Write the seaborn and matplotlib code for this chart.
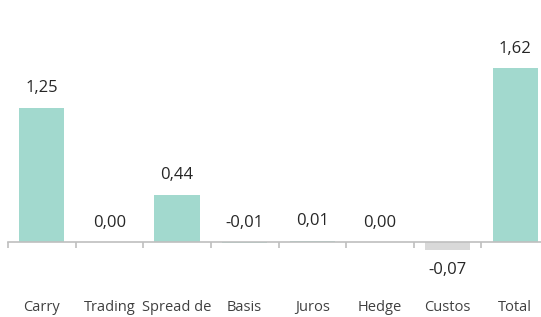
import matplotlib
matplotlib.use('Agg')
import matplotlib.pyplot as plt
import seaborn as sns
import pandas as pd
import numpy as np

# Data
categories = ['Carry', 'Trading', 'Spread de', 'Basis', 'Juros', 'Hedge', 'Custos', 'Total']
values = [1.25, 0.00, 0.44, -0.01, 0.01, 0.00, -0.07, 1.62]
bar_colors = ['#A2D9CE', '#A2D9CE', '#A2D9CE', '#A2D9CE', '#A2D9CE', '#A2D9CE', '#D9D9D9', '#A2D9CE']

df = pd.DataFrame({'cat': categories, 'val': values})

sns.set_style('white')
plt.rcParams['font.family'] = ['Open Sans', 'DejaVu Sans']

fig = plt.figure(figsize=(5.41, 3.17), dpi=100)
# axes spill over the right edge, like the cropped original
px_per_unit = 107.4
y0, y1 = -0.6, 2.2
h = (y1 - y0) * px_per_unit
bottom_px = 317 - (242 + (0 - y0) * px_per_unit)
ax = fig.add_axes([8 / 541, bottom_px / 317, 541 / 541, h / 317])

sns.barplot(data=df, x='cat', y='val', hue='cat', palette=bar_colors,
            width=0.67, legend=False, ax=ax, saturation=1, linewidth=0)

ax.set_xlim(-0.5, 7.5)
ax.set_ylim(y0, y1)
ax.set_xlabel('')
ax.set_ylabel('')
ax.set_yticks([])

for s in ['top', 'right', 'left']:
    ax.spines[s].set_visible(False)
ax.spines['bottom'].set_position(('data', 0))
ax.spines['bottom'].set_color('#BFBFBF')
ax.spines['bottom'].set_linewidth(1.2)

# labels at centers, tick marks at category boundaries
ax.set_xticks(range(len(categories)))
ax.set_xticklabels(categories, fontsize=10.5, color='#404040')
ax.set_xticks(np.arange(-0.5, len(categories), 1), minor=True)
ax.tick_params(axis='x', which='major', bottom=True, length=0, pad=42)
ax.tick_params(axis='x', which='minor', bottom=True, length=4, width=1.2,
               color='#BFBFBF', direction='out')

# value labels
for i, v in enumerate(values):
    txt = f'{v:.2f}'.replace('.', ',')
    if v < -0.05:
        ax.annotate(txt, (i, v), xytext=(0, -15), textcoords='offset points',
                    ha='center', va='center', fontsize=12, color='#262626')
    else:
        ax.annotate(txt, (i, max(v, 0)), xytext=(0, 14), textcoords='offset points',
                    ha='center', va='center', fontsize=12, color='#262626')

fig.savefig('out.png', dpi=100)
